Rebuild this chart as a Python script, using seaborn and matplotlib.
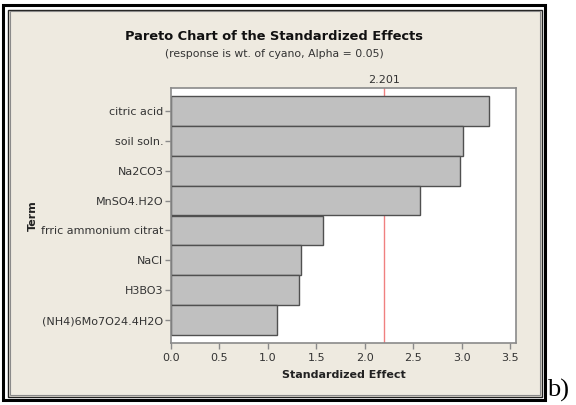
import pandas as pd
import matplotlib
matplotlib.use('Agg')
import matplotlib.pyplot as plt
import seaborn as sns
from matplotlib.patches import Rectangle

# data
terms = ['citric acid', 'soil soln.', 'Na2CO3', 'MnSO4.H2O', 'frric ammonium citrat',
         'NaCl', 'H3BO3', '(NH4)6Mo7O24.4H2O']
effects = [3.28, 3.01, 2.98, 2.57, 1.57, 1.34, 1.32, 1.09]
critical = 2.201
xticks = [0.0, 0.5, 1.0, 1.5, 2.0, 2.5, 3.0, 3.5]

df = pd.DataFrame({'Term': terms, 'Effect': effects})

sns.set_style('white')
plt.rcParams['font.family'] = ['DejaVu Sans']

fig = plt.figure(figsize=(5.76, 4.05), dpi=100)
fig.patch.set_facecolor('white')

# outer double frame and beige background
fig.patches.append(Rectangle((3 / 576, 1 - 400 / 405), 542 / 576, 395 / 405, transform=fig.transFigure,
                             facecolor='white', edgecolor='black', linewidth=2.2, zorder=-3))
fig.patches.append(Rectangle((7.5 / 576, 1 - 396.5 / 405), 534 / 576, 387 / 405, transform=fig.transFigure,
                             facecolor='#EEEAE0', edgecolor='#222222', linewidth=1.0, zorder=-2))
fig.patches.append(Rectangle((9.5 / 576, 1 - 394.5 / 405), 530 / 576, 383.5 / 405, transform=fig.transFigure,
                             facecolor='none', edgecolor='#8a8a8a', linewidth=0.8, zorder=-1))

ax = fig.add_axes([171 / 576, 62 / 405, 345 / 576, 255 / 405])
ax.set_facecolor('white')

sns.barplot(data=df, x='Effect', y='Term', orient='h', width=1.0, color='#C0C0C0',
            edgecolor='#505050', linewidth=1.0, saturation=1, ax=ax)

# critical value line sits behind the bars
ax.axvline(critical, color='#F08080', linewidth=1.0, zorder=0.5)
ax.text(critical, 1.012, '2.201', transform=ax.get_xaxis_transform(), ha='center', va='bottom',
        fontsize=8, color='#333333')

ax.set_xlim(0, 3.56)
ax.set_ylim(7.77, -0.77)
ax.set_xticks(xticks)
ax.set_xticklabels([f'{v:.1f}' for v in xticks])

for s in ['top', 'right', 'bottom', 'left']:
    ax.spines[s].set_color('#8a8a8a')
    ax.spines[s].set_linewidth(1.2)
ax.tick_params(axis='both', which='major', length=4, width=1, color='#8a8a8a',
               labelsize=8, labelcolor='#333333', pad=1.5)
ax.tick_params(axis='x', direction='out', bottom=True, pad=3)
ax.tick_params(axis='y', direction='out', left=True)

ax.set_xlabel('Standardized Effect', fontweight='bold', fontsize=8, color='#222222', labelpad=5)
ax.set_ylabel('Term', fontweight='bold', fontsize=8, color='#222222')
ax.yaxis.set_label_coords(-0.385, 0.5)

fig.text(274 / 576, 1 - 36 / 405, 'Pareto Chart of the Standardized Effects', ha='center', va='center',
         fontsize=9.4, fontweight='bold', color='#111111')
fig.text(274 / 576, 1 - 54 / 405, '(response is wt. of cyano, Alpha = 0.05)', ha='center', va='center',
         fontsize=7.8, color='#333333')

fig.text(547 / 576, 1 - 390 / 405, 'b)', ha='left', va='center', fontsize=19,
         family=['Liberation Serif', 'DejaVu Serif'], color='black')

fig.savefig('out.png', dpi=100)
